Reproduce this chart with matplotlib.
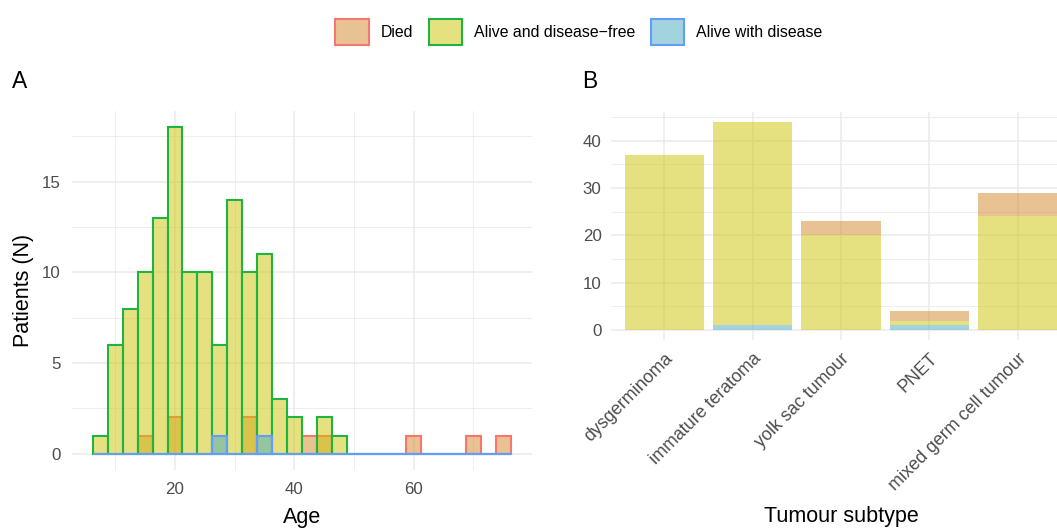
import matplotlib
matplotlib.use('Agg')
import matplotlib.pyplot as plt
import numpy as np
from matplotlib.colors import to_rgba
from matplotlib.patches import Patch

plt.rcParams['font.family'] = ['Liberation Sans', 'DejaVu Sans']

# ---------------- data ----------------
status_labels = ["Died", "Alive and disease\u2212free", "Alive with disease"]
fill_colors = ["#D38729", "#CDC505", "#47A9C1"]
edge_colors = ["#F8766D", "#1DB43F", "#619CFF"]

# Age histogram: bin width 2.5, first bin starts at 6.25 (28 bins)
bin_width = 2.5
bin_start = 6.25
died_hist = [0, 0, 0, 1, 0, 2, 0, 0, 0, 0, 2, 0, 0, 0, 1, 1, 0, 0, 0, 0, 0, 1, 0, 0, 0, 1, 0, 1]
free_hist = [1, 6, 8, 10, 13, 18, 10, 10, 6, 14, 10, 11, 3, 2, 0, 2, 1, 0, 0, 0, 0, 0, 0, 0, 0, 0, 0, 0]
dis_hist = [0, 0, 0, 0, 0, 0, 0, 0, 1, 0, 0, 1, 0, 0, 0, 0, 0, 0, 0, 0, 0, 0, 0, 0, 0, 0, 0, 0]

subtypes = ["dysgerminoma", "immature teratoma", "yolk sac tumour", "PNET", "mixed germ cell tumour"]
died_sub = [0, 0, 3, 2, 5]
free_sub = [37, 43, 20, 1, 24]
dis_sub = [0, 1, 0, 1, 0]

# ---------------- figure ----------------
W, H = 1057, 530
fig = plt.figure(figsize=(W / 100, H / 100), dpi=100)

def px_axes(x0, x1, ytop, ybot):
    return fig.add_axes([x0 / W, 1 - ybot / H, (x1 - x0) / W, (ybot - ytop) / H])

ax1 = px_axes(72, 531.7, 111, 470)
ax2 = px_axes(611.3, 1070.7, 111.5, 340.4)

tick_fs = 12.2
title_fs = 15.5
grid_major = dict(color="#EBEBEB", linewidth=1.1)
grid_minor = dict(color="#EBEBEB", linewidth=0.6)

for ax in (ax1, ax2):
    for s in ax.spines.values():
        s.set_visible(False)
    ax.set_axisbelow(True)
    ax.tick_params(axis="both", which="both", length=0, labelsize=tick_fs, labelcolor="#4D4D4D")

# ---- Panel A: histogram (identity position, overlaid) ----
centers = bin_start + bin_width * (np.arange(len(died_hist)) + 0.5)
for vals, fc, ec in zip([died_hist, free_hist, dis_hist], fill_colors, edge_colors):
    ax1.bar(centers, vals, width=bin_width, color=to_rgba(fc, 0.5), edgecolor=ec, linewidth=1.5)

ax1.set_xlim(2.75, 79.75)
ax1.set_ylim(-0.9, 18.9)
ax1.set_xticks([20, 40, 60])
ax1.set_xticks([10, 30, 50, 70], minor=True)
ax1.set_yticks([0, 5, 10, 15])
ax1.set_yticks([2.5, 7.5, 12.5, 17.5], minor=True)
ax1.grid(True, which="major", **grid_major)
ax1.grid(True, which="minor", **grid_minor)
ax1.tick_params(axis="x", pad=9)
ax1.tick_params(axis="y", pad=8)
ax1.set_xlabel("Age", fontsize=title_fs, labelpad=7)
ax1.set_ylabel("Patients (N)", fontsize=title_fs, labelpad=6)

# ---- Panel B: stacked bars ----
xpos = np.arange(len(subtypes))
bottom = np.zeros(len(subtypes))
for vals, fc in zip([dis_sub, free_sub, died_sub], [fill_colors[2], fill_colors[1], fill_colors[0]]):
    ax2.bar(xpos, vals, width=0.9, bottom=bottom, color=to_rgba(fc, 0.5), linewidth=0)
    bottom = bottom + np.array(vals)

ax2.set_xlim(-0.6, len(subtypes) - 0.4)
ax2.set_ylim(-2.2, 46.2)
ax2.set_xticks(xpos)
ax2.set_xticklabels(subtypes, rotation=45, ha="right", va="top", rotation_mode="anchor",
                    fontsize=12.9)
ax2.set_yticks([0, 10, 20, 30, 40])
ax2.set_yticks([5, 15, 25, 35, 45], minor=True)
ax2.grid(True, which="major", **grid_major)
ax2.grid(True, which="minor", axis="y", **grid_minor)
ax2.tick_params(axis="x", pad=7)
ax2.tick_params(axis="y", pad=7)
ax2.set_xlabel("Tumour subtype", fontsize=title_fs, labelpad=9)

# panel tags
fig.text(12 / W, 1 - 82 / H, "A", fontsize=16.5, va="center", ha="left")
fig.text(582 / W, 1 - 82 / H, "B", fontsize=16.5, va="center", ha="left")

# legend
handles = [Patch(facecolor=to_rgba(fc, 0.5), edgecolor=ec, linewidth=1.5)
           for fc, ec in zip(fill_colors, edge_colors)]
fig.legend(handles, status_labels, loc="center", bbox_to_anchor=(579 / W, 1 - 32 / H),
           ncol=3, frameon=False, fontsize=11.4, handlelength=2.1, handleheight=2.1,
           handletextpad=0.75, columnspacing=1.0, borderaxespad=0)

fig.savefig("out.png", dpi=100)
